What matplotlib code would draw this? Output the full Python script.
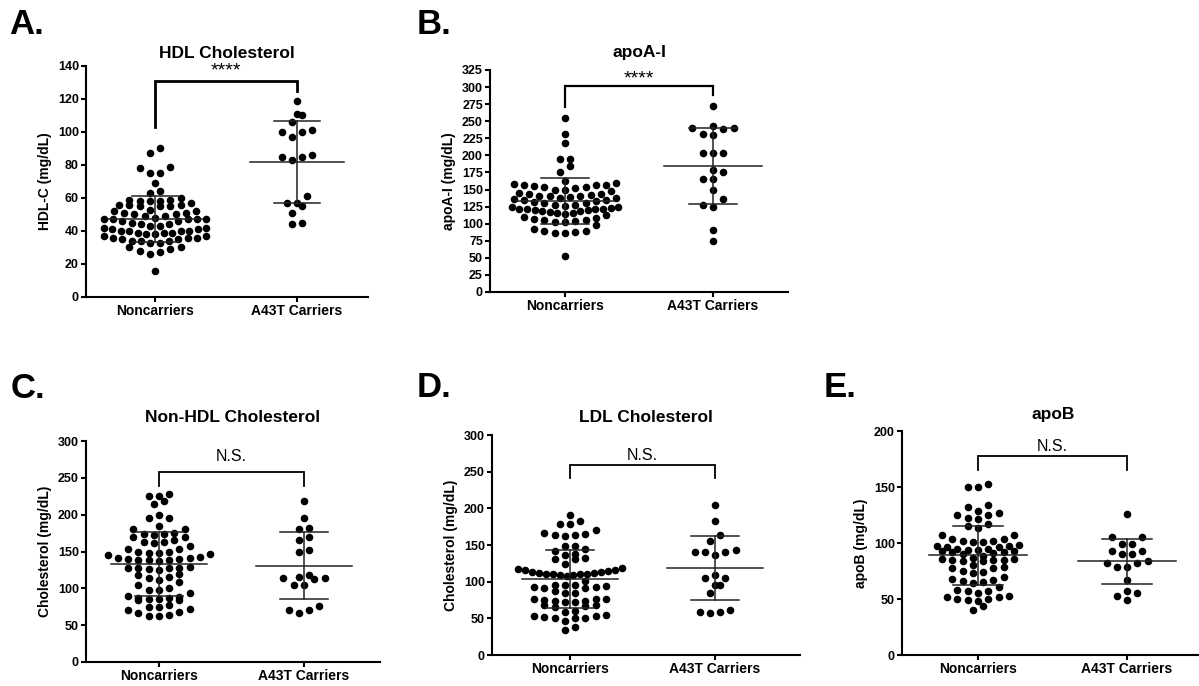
import numpy as np
import matplotlib
matplotlib.use('Agg')
import matplotlib.pyplot as plt

plt.rcParams['font.family'] = ['Liberation Sans', 'DejaVu Sans']

grupos = ['Noncarriers', 'A43T Carriers']

# valores (mg/dL)
hdl_non = [90, 87, 79, 78, 75, 75, 69, 64, 63, 60, 59, 59, 58, 58, 58, 57, 56, 56, 56, 55,
           55, 55, 53, 52, 52, 51, 51, 50, 50, 49, 49, 48, 47, 47, 47, 47, 47, 46, 46, 45,
           44, 44, 43, 43, 42, 42, 41, 41, 40, 40, 40, 40, 39, 39, 39, 38, 38, 37, 37, 36,
           36, 36, 35, 35, 34, 34, 34, 33, 33, 30, 30, 29, 28, 27, 26, 16]
hdl_car = [119, 111, 110, 106, 101, 100, 100, 97, 86, 85, 85, 83, 61, 57, 57, 55, 51, 45, 44]

apoa_non = [255, 232, 218, 195, 194, 185, 176, 162, 160, 158, 157, 157, 156, 155, 154, 153,
            152, 150, 150, 148, 145, 143, 143, 142, 141, 140, 140, 139, 138, 137, 136, 135,
            134, 133, 132, 131, 130, 128, 127, 126, 125, 124, 123, 122, 122, 121, 121, 120,
            120, 119, 118, 117, 116, 115, 114, 112, 110, 108, 107, 106, 105, 104, 103, 102,
            98, 92, 90, 89, 88, 87, 87, 52]
apoa_car = [273, 243, 240, 240, 238, 232, 230, 203, 203, 203, 178, 176, 166, 166, 150, 136,
            127, 125, 91, 74]

nonhdl_non = [228, 226, 226, 219, 214, 200, 195, 195, 185, 180, 180, 175, 174, 174, 172, 170,
              170, 165, 163, 161, 163, 157, 153, 150, 150, 153, 148, 148, 146, 143, 141, 140,
              139, 138, 137, 138, 140, 141, 145, 128, 127, 127, 125, 129, 127, 126, 118, 116,
              120, 114, 111, 108, 104, 101, 98, 98, 93, 88, 87, 86, 84, 89, 84, 86, 87, 78,
              75, 72, 68, 64, 63, 63, 67, 70, 74]
nonhdl_car = [218, 196, 182, 180, 170, 166, 152, 150, 115, 114, 104, 104, 112, 114, 118, 71,
              67, 71, 76]

ldl_non = [191, 183, 179, 178, 170, 167, 165, 163, 162, 164, 148, 148, 145, 142, 138, 136,
           132, 131, 131, 124, 117, 118, 116, 113, 112, 111, 110, 109, 108, 109, 110, 111,
           112, 113, 115, 116, 101, 95, 94, 93, 91, 91, 93, 95, 95, 85, 87, 84, 77, 75, 73,
           72, 72, 74, 76, 77, 68, 66, 67, 68, 60, 53, 54, 52, 53, 58, 51, 51, 46, 51, 38, 34]
ldl_car = [205, 183, 164, 156, 141, 141, 136, 141, 143, 109, 105, 105, 96, 95, 85, 59, 57,
           59, 62]

apob_non = [153, 150, 150, 134, 132, 129, 127, 125, 125, 122, 121, 117, 115, 113, 107, 107,
            104, 104, 102, 102, 101, 101, 97, 97, 96, 95, 94, 93, 92, 90, 91, 92, 93, 94, 95,
            96, 98, 88, 87, 86, 85, 84, 86, 85, 85, 84, 80, 79, 78, 78, 75, 74, 73, 70, 68,
            66, 65, 67, 64, 61, 58, 57, 57, 55, 53, 52, 52, 50, 50, 49, 48, 44, 40]
apob_car = [126, 105, 105, 99, 99, 93, 93, 90, 90, 84, 82, 79, 79, 82, 67, 55, 53, 57, 49]

W, H = 1199, 686
D_PONTO = 7.6  # diametro do ponto em pixels
fig = plt.figure(figsize=(W / 100, H / 100), dpi=100)


def px_ax(esq, dir_, cima, baixo):
    return fig.add_axes([esq / W, 1 - baixo / H, (dir_ - esq) / W, (baixo - cima) / H])


def colmeia(valores, dy, dx, meia_larg=0.36):
    # agrupa em linhas horizontais (estilo prism) e espalha cada linha em x
    ordenados = sorted(valores)
    linhas = []
    for v in ordenados:
        if linhas and v - linhas[-1][0] < dy:
            linhas[-1].append(v)
        else:
            linhas.append([v])
    xs, ys = [], []
    for linha in linhas:
        n = len(linha)
        passo = dx * 1.35
        if n > 1:
            passo = min(passo, 2 * meia_larg / (n - 1))
        posicoes = sorted([k - (n - 1) / 2 for k in range(n)], key=lambda p: (abs(p), p))
        for v, p in zip(linha, posicoes):
            xs.append(p * passo)
            ys.append(v)
    return np.array(xs), np.array(ys)


def painel(ax, non, car, ymax, passo, xlim, ylabel, barra, rotulo, lw_barra, tam_rotulo, larg_px, alt_px):
    dx = D_PONTO * (xlim[1] - xlim[0]) / larg_px
    dy = D_PONTO * ymax / alt_px
    for i, dados in enumerate([non, car]):
        xs, ys = colmeia(dados, dy, dx)
        ax.scatter(xs + i, ys, s=(D_PONTO * 0.72) ** 2, color='black', linewidths=0, zorder=2)
        m = np.mean(dados)
        s = np.std(dados, ddof=1)
        ax.plot([i - 0.33, i + 0.33], [m, m], color='#222222', lw=1.1, zorder=3)
        ax.plot([i, i], [m - s, m + s], color='#222222', lw=1.1, zorder=3)
        for v in (m - s, m + s):
            ax.plot([i - 0.165, i + 0.165], [v, v], color='#222222', lw=1.1, zorder=3)
    y_esq, y_topo, y_dir, y_txt = barra
    ax.plot([0, 0, 1, 1], [y_esq, y_topo, y_topo, y_dir], color='black', lw=lw_barra,
            solid_joinstyle='miter', clip_on=False)
    ax.text(0.5, y_txt, rotulo, ha='center', va='center', fontsize=tam_rotulo)
    ax.set_ylim(0, ymax)
    ax.set_xlim(*xlim)
    ax.set_yticks(np.arange(0, ymax + 1, passo))
    ax.set_xticks([0, 1])
    ax.set_xticklabels(grupos, fontsize=10, fontweight='bold')
    for t in ax.get_yticklabels():
        t.set_fontsize(9)
        t.set_fontweight('bold')
    ax.set_ylabel(ylabel, fontsize=10, fontweight='bold')
    for lado in ['top', 'right']:
        ax.spines[lado].set_visible(False)
    for lado in ['left', 'bottom']:
        ax.spines[lado].set_linewidth(1.5)
    ax.tick_params(direction='out', length=3.6, width=1.5, pad=1.5)
    ax.set_facecolor('none')


caixas = [(86, 368, 66, 297), (490, 788, 70, 292), (86, 380, 441, 662),
          (492, 800, 435, 655), (902, 1205, 431, 655)]
config = [
    (hdl_non, hdl_car, 140, 20, (-0.486, 1.5), 'HDL-C (mg/dL)', (103, 131, 125, 137), '****', 2.0, 14),
    (apoa_non, apoa_car, 325, 25, (-0.507, 1.507), 'apoA-I (mg/dL)', (271, 301.5, 288, 312), '****', 1.6, 14),
    (nonhdl_non, nonhdl_car, 300, 50, (-0.503, 1.524), 'Cholesterol (mg/dL)', (239, 258, 239, 279), 'N.S.', 1.3, 11.5),
    (ldl_non, ldl_car, 300, 50, (-0.538, 1.586), 'Cholesterol (mg/dL)', (241, 259, 241, 272), 'N.S.', 1.3, 11.5),
    (apob_non, apob_car, 200, 50, (-0.51, 1.523), 'apoB (mg/dL)', (165, 178, 165, 186), 'N.S.', 1.3, 11.5),
]
for caixa, cfg in zip(caixas, config):
    esq, dir_, cima, baixo = caixa
    ax = px_ax(esq, dir_, cima, baixo)
    painel(ax, *cfg, larg_px=dir_ - esq, alt_px=baixo - cima)

titulos = [('HDL Cholesterol', 227, 53), ('apoA-I', 639, 53), ('Non-HDL Cholesterol', 233, 417),
           ('LDL Cholesterol', 646, 417), ('apoB', 1053, 414)]
for txt, x, y in titulos:
    fig.text(x / W, 1 - y / H, txt, ha='center', va='center', fontsize=12.5, fontweight='bold')

letras = [('A.', 9, 24), ('B.', 417, 24), ('C.', 11, 388), ('D.', 417, 387), ('E.', 824, 387)]
for txt, x, y in letras:
    fig.text(x / W, 1 - y / H, txt, ha='left', va='center', fontsize=25, fontweight='bold')

fig.savefig('out.png', dpi=100)
